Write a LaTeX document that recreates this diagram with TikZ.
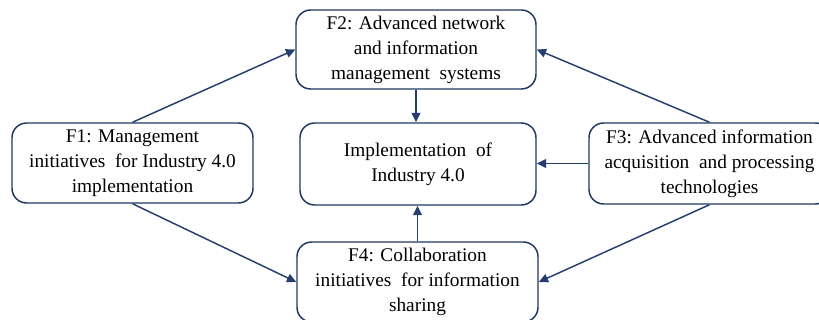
\documentclass[tikz,border=0pt]{standalone}
\usepackage{fontspec}
\setmainfont{Liberation Serif}
\usetikzlibrary{arrows.meta}
\definecolor{navy}{RGB}{31,56,100}
\definecolor{arrowc}{RGB}{38,62,110}
\begin{document}
\begin{tikzpicture}[x=0.75pt,y=-0.75pt,
  box/.style={draw=navy, line width=1.1pt, rounded corners=11pt, fill=white,
    align=center, inner sep=0pt, font=\fontsize{14.5}{18.8}\selectfont},
  conn/.style={draw=arrowc, line width=1.1pt, -{Triangle[length=7pt,width=6.5pt]}}]
\useasboundingbox (0,0) rectangle (819,320);
\node[box, minimum width=180.75pt, minimum height=60pt] (F1) at (132.5,163) {F1: Management\\initiatives\ \ for Industry 4.0\\implementation};
\node[box, minimum width=180pt, minimum height=59.25pt] (F2) at (416,49.5) {F2: Advanced network\\and information\\management\ \ systems};
\node[box, minimum width=177pt, minimum height=61.5pt] (C) at (418,164) {Implementation\ \ of\\Industry 4.0};
\node[box, minimum width=180.75pt, minimum height=60.75pt] (F3) at (709.5,163.5) {F3: Advanced information\\acquisition\ \ and processing\\technologies};
\node[box, minimum width=180.75pt, minimum height=60pt] (F4) at (417.5,282) {F4: Collaboration\\initiatives\ \ for information\\sharing};
\draw[conn] (F1.north) -- (F2.west);
\draw[conn] (F1.south) -- (F4.west);
\draw[conn] (F3.north) -- (F2.east);
\draw[conn] (F3.south) -- (F4.east);
\draw[conn] (F3.west) -- (C.east |- F3.west);
\draw[conn] (F2.south) -- (F2.south |- C.north);
\draw[conn] (F4.north) -- (F4.north |- C.south);
\end{tikzpicture}
\end{document}
